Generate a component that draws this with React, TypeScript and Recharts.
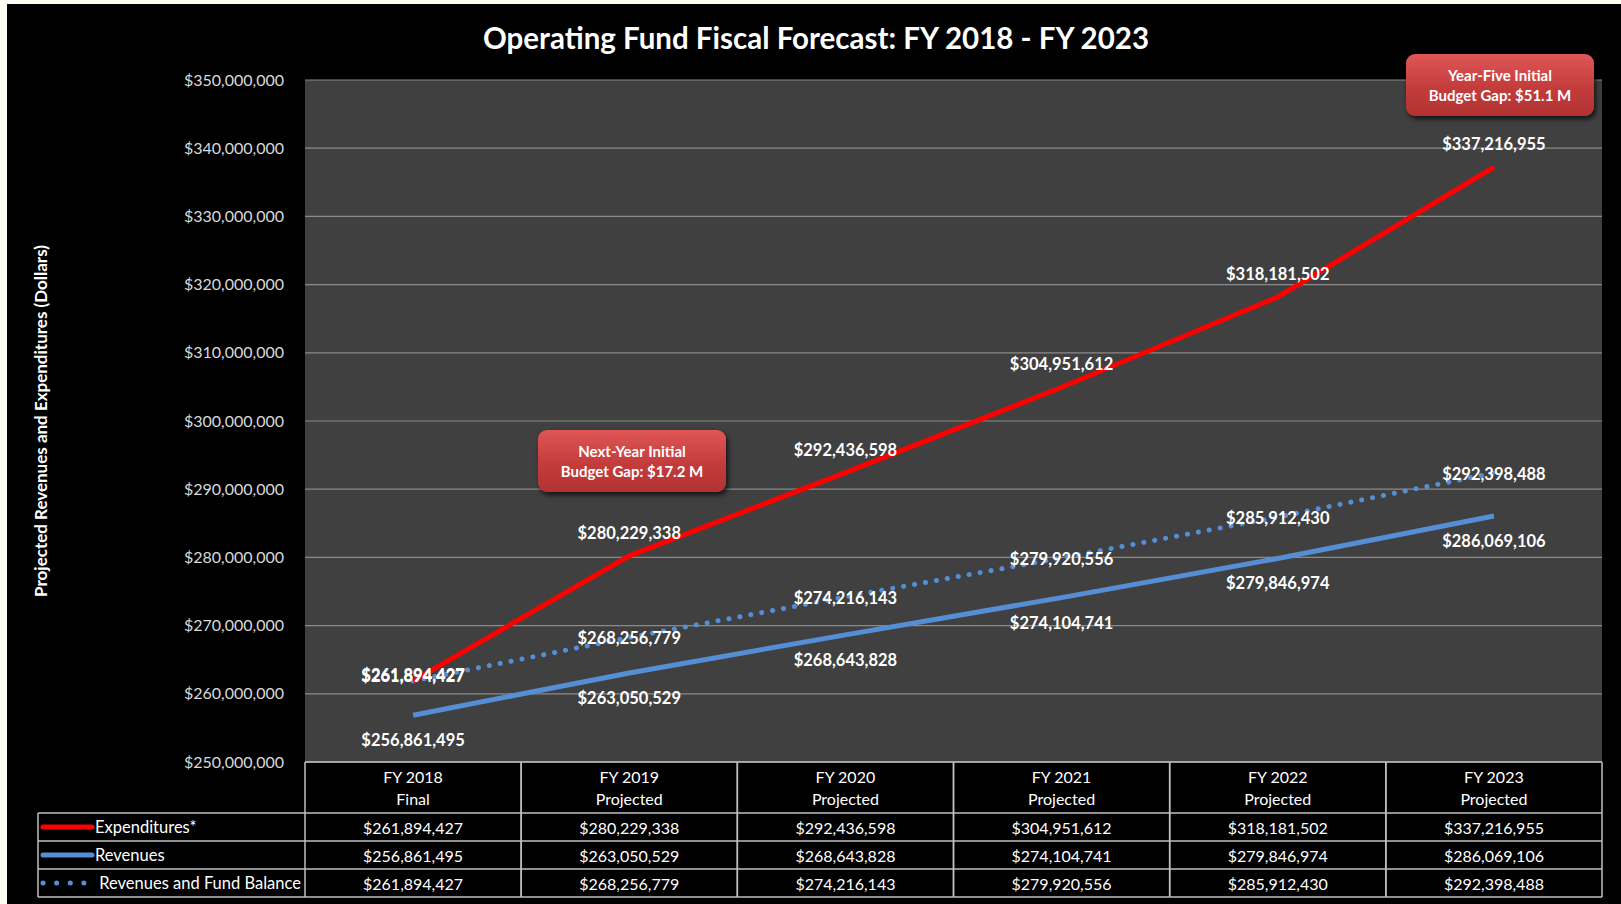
import { LineChart, Line, XAxis, YAxis, CartesianGrid, LabelList } from 'recharts';

const years = ['FY 2018', 'FY 2019', 'FY 2020', 'FY 2021', 'FY 2022', 'FY 2023'];
const stages = ['Final', 'Projected', 'Projected', 'Projected', 'Projected', 'Projected'];

const expenditures = [261894427, 280229338, 292436598, 304951612, 318181502, 337216955];
const revenues = [256861495, 263050529, 268643828, 274104741, 279846974, 286069106];
const fundBalance = [261894427, 268256779, 274216143, 279920556, 285912430, 292398488];

const yTicks = [
  250000000, 260000000, 270000000, 280000000, 290000000, 300000000,
  310000000, 320000000, 330000000, 340000000, 350000000,
];

const data = years.map((year, i) => ({
  year,
  stage: stages[i],
  expenditures: expenditures[i],
  revenues: revenues[i],
  fundBalance: fundBalance[i],
}));

const series = [
  { key: 'expenditures', name: 'Expenditures*', color: '#ff0000', dotted: false },
  { key: 'revenues', name: 'Revenues', color: '#558ed5', dotted: false },
  { key: 'fundBalance', name: ' Revenues and Fund Balance', color: '#558ed5', dotted: true },
];

// label offsets (px from the point), per series
const labelDy: Record<string, number[]> = {
  expenditures: [-6, -23, -23, -23, -23, -23],
  revenues: [25, 25, 25, 25, 25, 25],
  fundBalance: [-5, 1, 1, 1, 1, 1],
};

const W = 1614;
const H = 900;
const PLOT_LEFT = 298;
const PLOT_RIGHT = 1595;
const COL_W = (PLOT_RIGHT - PLOT_LEFT) / years.length;
const HEADER_H = 51;
const ROW_H = 28;
const LEGEND_LEFT = 31;
const FONT = 'Lato, "Open Sans", sans-serif';
const BORDER = '#bfbfbf';
const TXT = 16;

const fmt = (v: number) => '$' + v.toLocaleString('en-US');

function TableColumn(props: any) {
  const { x, y, payload, index } = props;
  const left = x - COL_W / 2;
  const right = x + COL_W / 2;
  const bottom = y + HEADER_H + ROW_H * series.length;
  const row = data[index];
  return (
    <g fontFamily={FONT}>
      <line x1={left} x2={left} y1={y} y2={bottom} stroke={BORDER} strokeWidth={1.5} />
      <line x1={right} x2={right} y1={y} y2={bottom} stroke={BORDER} strokeWidth={1.5} />
      <text x={x} y={y + 14} textAnchor="middle" dominantBaseline="central" fill="#fff" fontSize={TXT}>
        {payload.value}
      </text>
      <text x={x} y={y + 36} textAnchor="middle" dominantBaseline="central" fill="#fff" fontSize={TXT}>
        {row.stage}
      </text>
      {series.map((s, r) => {
        const top = y + HEADER_H + r * ROW_H;
        return (
          <g key={s.key}>
            <line x1={left} x2={right} y1={top} y2={top} stroke={BORDER} strokeWidth={1.5} />
            <text x={x} y={top + ROW_H / 2} textAnchor="middle" dominantBaseline="central" fill="#fff" fontSize={TXT}>
              {fmt((row as any)[s.key])}
            </text>
          </g>
        );
      })}
      <line x1={left} x2={right} y1={bottom} y2={bottom} stroke={BORDER} strokeWidth={1.5} />
      {index === 0 && (
        <g>
          <line x1={LEGEND_LEFT} x2={LEGEND_LEFT} y1={y + HEADER_H} y2={bottom} stroke={BORDER} strokeWidth={1.5} />
          {series.map((s, r) => {
            const top = y + HEADER_H + r * ROW_H;
            const cy = top + ROW_H / 2;
            return (
              <g key={s.key}>
                <line x1={LEGEND_LEFT} x2={left} y1={top} y2={top} stroke={BORDER} strokeWidth={1.5} />
                {s.dotted ? (
                  <line x1={36} x2={77} y1={cy} y2={cy} stroke={s.color} strokeWidth={5}
                    strokeLinecap="round" strokeDasharray="0.1 13.5" />
                ) : (
                  <line x1={36} x2={85} y1={cy} y2={cy} stroke={s.color} strokeWidth={5} strokeLinecap="round" />
                )}
                <text x={88} y={cy} dominantBaseline="central" fill="#fff" fontSize={16.5} style={{ whiteSpace: 'pre' }}>
                  {s.name}
                </text>
              </g>
            );
          })}
          <line x1={LEGEND_LEFT} x2={left} y1={bottom} y2={bottom} stroke={BORDER} strokeWidth={1.5} />
        </g>
      )}
    </g>
  );
}

function makeLabel(key: string) {
  return (props: any) => {
    const { x, y, value, index } = props;
    if (x == null || y == null) return null;
    return (
      <text x={x} y={y + labelDy[key][index]} textAnchor="middle" dominantBaseline="central"
        fill="#fff" fontSize={16.5} fontWeight="bold" fontFamily={FONT}>
        {fmt(value)}
      </text>
    );
  };
}

const calloutStyle: React.CSSProperties = {
  position: 'absolute',
  width: 188,
  height: 62,
  borderRadius: 9,
  background: 'linear-gradient(#e05656, #c33c3c 55%, #b23333)',
  boxShadow: '2px 3px 5px rgba(0,0,0,0.7)',
  color: '#fff',
  fontFamily: FONT,
  fontWeight: 'bold',
  fontSize: 15,
  lineHeight: '20px',
  textAlign: 'center',
  display: 'flex',
  flexDirection: 'column',
  justifyContent: 'center',
};

export default function App() {
  return (
    <div style={{ position: 'absolute', left: 0, top: 0, width: 1621, height: 904, background: '#fdfdf3', overflow: 'hidden' }}>
      <div style={{ position: 'absolute', left: 7, top: 4, width: W, height: H, background: '#000' }}>
        <div style={{
          position: 'absolute', left: 0, width: 1618, top: 16, textAlign: 'center',
          color: '#fff', fontFamily: FONT, fontWeight: 'bold', fontSize: 29.5,
        }}>
          Operating Fund Fiscal Forecast: FY 2018 - FY 2023
        </div>
        <LineChart width={W} height={H} data={data} margin={{ top: 76, right: W - PLOT_RIGHT, bottom: 7, left: 8 }}>
          <CartesianGrid vertical={false} fill="#404040" stroke="#8a8a8a" strokeWidth={1.2} />
          <XAxis
            dataKey="year"
            scale="point"
            padding={{ left: COL_W / 2, right: COL_W / 2 }}
            height={H - 7 - 758}
            axisLine={{ stroke: BORDER, strokeWidth: 1.5 }}
            tickLine={false}
            tickSize={0}
            tickMargin={0}
            interval={0}
            tick={TableColumn}
          />
          <YAxis
            domain={[250000000, 350000000]}
            ticks={yTicks}
            width={PLOT_LEFT - 8}
            axisLine={false}
            tickLine={false}
            tickSize={0}
            tickMargin={21}
            tickFormatter={fmt}
            tick={{ fill: '#d9d9d9', fontSize: TXT, fontFamily: FONT }}
            label={{
              value: 'Projected Revenues and Expenditures (Dollars)',
              angle: -90,
              position: 'insideLeft',
              offset: 26,
              style: { fill: '#fff', fontWeight: 'bold', fontSize: 17, fontFamily: FONT, textAnchor: 'middle' },
            }}
          />
          <Line dataKey="fundBalance" stroke="#558ed5" strokeWidth={5} strokeDasharray="0.1 11"
            strokeLinecap="round" dot={false} isAnimationActive={false}>
            <LabelList dataKey="fundBalance" content={makeLabel('fundBalance')} />
          </Line>
          <Line dataKey="revenues" stroke="#558ed5" strokeWidth={5} dot={false} isAnimationActive={false}>
            <LabelList dataKey="revenues" content={makeLabel('revenues')} />
          </Line>
          <Line dataKey="expenditures" stroke="#ff0000" strokeWidth={5} dot={false} isAnimationActive={false}>
            <LabelList dataKey="expenditures" content={makeLabel('expenditures')} />
          </Line>
        </LineChart>
        <div style={{ ...calloutStyle, left: 531, top: 426 }}>
          <div>Next-Year Initial</div>
          <div>Budget Gap: $17.2 M</div>
        </div>
        <div style={{ ...calloutStyle, left: 1399, top: 50 }}>
          <div>Year-Five Initial</div>
          <div>Budget Gap: $51.1 M</div>
        </div>
      </div>
    </div>
  );
}
